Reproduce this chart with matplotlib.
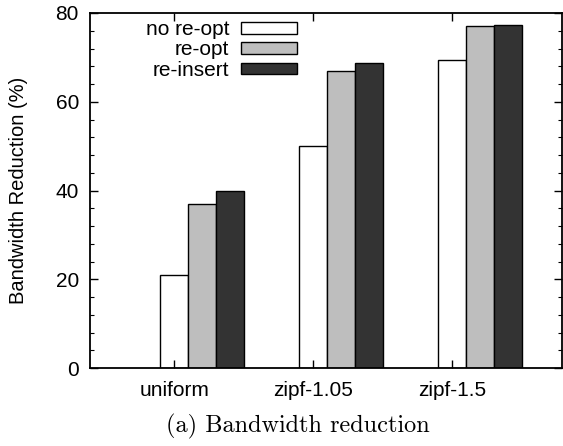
import numpy as np
import matplotlib
matplotlib.use('Agg')
import matplotlib.pyplot as plt
from matplotlib.ticker import MultipleLocator

# datos
categorias = ['uniform', 'zipf-1.05', 'zipf-1.5']
series = ['no re-opt', 're-opt', 're-insert']
no_reopt = [21.0, 50.0, 69.3]
reopt = [37.0, 66.9, 77.0]
reinsert = [40.0, 68.8, 77.4]
colores = ['white', '#bebebe', '#333333']

plt.rcParams['font.family'] = ['Liberation Sans', 'DejaVu Sans']

fig = plt.figure(figsize=(5.63, 4.46), dpi=100)
ax = fig.add_axes([90/563, 1 - 368/446, 472/563, 355/446])

x = np.arange(len(categorias))
ancho = 0.2
valores = [no_reopt, reopt, reinsert]
for i, (nombre, vals) in enumerate(zip(series, valores)):
    ax.bar(x + i * ancho, vals, ancho, color=colores[i], edgecolor='black',
           linewidth=1.0, label=nombre)

ax.set_xlim(-0.606, 2.79)
ax.set_ylim(0, 80)
ax.set_xticks(x)
ax.set_xticklabels(categorias)
ax.yaxis.set_major_locator(MultipleLocator(20))
ax.yaxis.set_minor_locator(MultipleLocator(4))
ax.tick_params(axis='both', which='both', direction='in', top=True, right=True,
               labelsize=15)
ax.tick_params(axis='both', which='major', length=6, width=1)
ax.tick_params(axis='y', which='minor', length=3, width=0.8)
ax.tick_params(axis='x', which='minor', bottom=False, top=False)
ax.tick_params(axis='x', pad=9)
ax.tick_params(axis='y', pad=8)
for s in ax.spines.values():
    s.set_linewidth(1.3)

ax.set_ylabel('Bandwidth Reduction (%)', fontsize=14.5)
ax.yaxis.set_label_coords((28 - 90) / 472, 0.5)

leg = ax.legend(loc='upper right', bbox_to_anchor=(297/563, 1 - 20/446),
                bbox_transform=fig.transFigure, frameon=False, borderaxespad=0,
                borderpad=0, fontsize=15, markerfirst=False, handlelength=2.7,
                handleheight=0.5, labelspacing=0.07, handletextpad=0.55)
for t in leg.get_texts():
    t.set_ha('right')

fig.text(297.5/563, 1 - 426/446, '(a) Bandwidth reduction', family='cmr10',
         fontsize=17.5, ha='center', va='center')

plt.savefig('out.png', dpi=100)
